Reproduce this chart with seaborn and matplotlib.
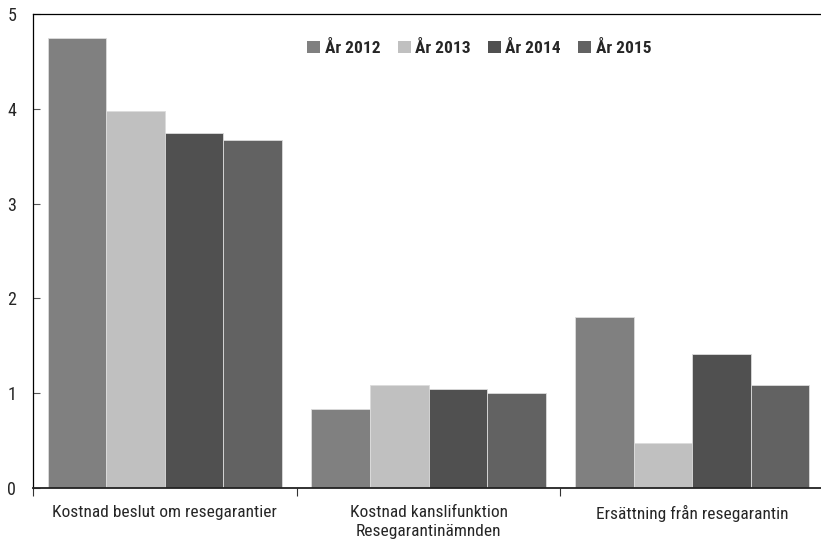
import matplotlib
matplotlib.use("Agg")
import matplotlib.pyplot as plt
from matplotlib.ticker import FixedLocator, NullFormatter
import seaborn as sns
import pandas as pd

categories = ["Kostnad beslut om resegarantier",
              "Kostnad kanslifunktion\nResegarantinämnden",
              "Ersättning från resegarantin"]
years = ["År 2012", "År 2013", "År 2014", "År 2015"]
values_2012 = [4.75, 0.83, 1.80]
values_2013 = [3.98, 1.09, 0.47]
values_2014 = [3.74, 1.04, 1.41]
values_2015 = [3.67, 1.00, 1.09]
colors = ["#808080", "#c0c0c0", "#505050", "#626262"]
y_ticks = [0, 1, 2, 3, 4, 5]

rows = []
for year, vals in zip(years, [values_2012, values_2013, values_2014, values_2015]):
    for cat, v in zip(categories, vals):
        rows.append({"Kategori": cat, "År": year, "Värde": v})
df = pd.DataFrame(rows)

sns.set_style("white")
font_list = ["Roboto Condensed", "Liberation Sans Narrow", "DejaVu Sans Condensed", "DejaVu Sans"]
plt.rcParams["font.family"] = font_list

fig = plt.figure(figsize=(8.21, 5.43), dpi=100)
ax = fig.add_axes([33 / 821, 55 / 543, 791 / 821, 474 / 543])

sns.barplot(data=df, x="Kategori", y="Värde", hue="År", order=categories,
            hue_order=years, palette=colors, width=0.89, ax=ax,
            edgecolor="#dcdcdc", linewidth=0.6, saturation=1, errorbar=None)

ax.set_xlim(-0.5, 2.5)
ax.set_ylim(0, 5)
ax.set_yticks(y_ticks)
ax.set_yticklabels([str(t) for t in y_ticks], fontsize=13)
ax.tick_params(axis="y", direction="in", length=5, width=0.8, color="#555555", pad=12, left=True)
ax.tick_params(axis="x", which="major", length=0, pad=12, labelsize=12.5)
for lbl in ax.get_xticklabels():
    lbl.set_linespacing(1.4)
ax.xaxis.set_minor_locator(FixedLocator([-0.5, 0.5, 1.5]))
ax.xaxis.set_minor_formatter(NullFormatter())
ax.tick_params(axis="x", which="minor", direction="out", length=6, width=0.8,
               color="#333333", bottom=True)
ax.set_xlabel("")
ax.set_ylabel("")

for name, sp in ax.spines.items():
    sp.set_visible(True)
    sp.set_color("#000000")
    sp.set_linewidth(0.9)
ax.spines["bottom"].set_linewidth(1.3)
ax.spines["bottom"].set_color("#222222")

leg = ax.legend(loc="upper center", bbox_to_anchor=(0.564, 0.978), ncol=4, frameon=False,
                handlelength=0.75, handleheight=0.75, handletextpad=0.25, columnspacing=1.0,
                prop={"weight": "bold", "size": 12.5, "family": font_list})
for h in leg.legend_handles:
    h.set_edgecolor("none")

fig.savefig("out.png", dpi=100)
